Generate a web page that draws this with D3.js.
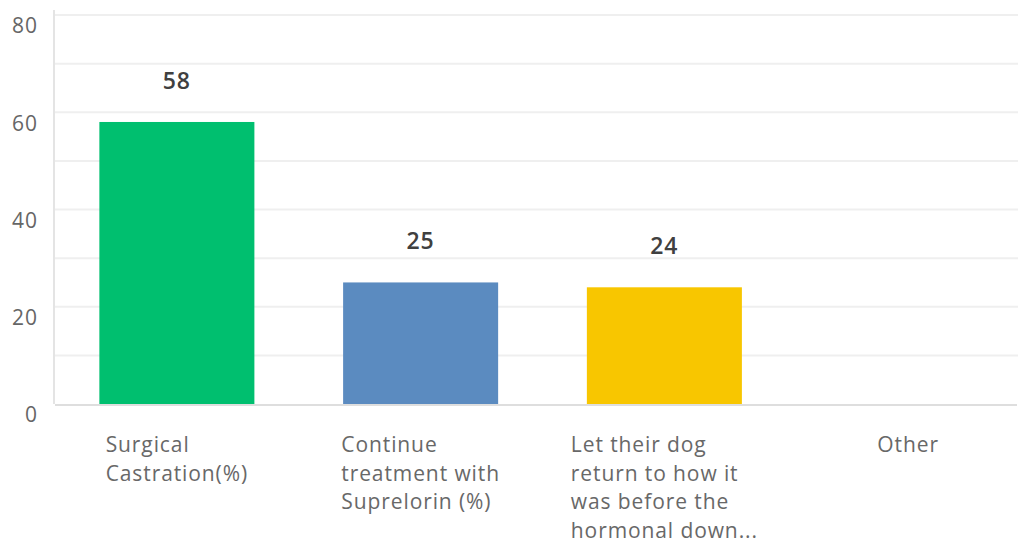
<!DOCTYPE html>
<html>
<head>
<meta charset="utf-8">
<script src="https://cdn.jsdelivr.net/npm/d3@7/dist/d3.min.js"></script>
<style>
  html, body { margin: 0; padding: 0; background: #ffffff; }
  svg { display: block; }
  text { font-family: "Open Sans", "Noto Sans", sans-serif; }
</style>
</head>
<body>
<svg id="chart" width="1018" height="542"></svg>
<script>
const categories = [
  ["Surgical", "Castration(%)"],
  ["Continue", "treatment with", "Suprelorin (%)"],
  ["Let their dog", "return to how it", "was before the", "hormonal down..."],
  ["Other"]
];
const categoryKeys = ["Surgical Castration(%)", "Continue treatment with Suprelorin (%)", "Let their dog return to how it was before the hormonal down...", "Other"];
const values = [58, 25, 24, null];
const barColors = ["#00bf6f", "#5b8bc0", "#f8c600", "#999999"];
const yTicks = [0, 20, 40, 60, 80];
const gridValues = [0, 10, 20, 30, 40, 50, 60, 70, 80];

const W = 1018, H = 542;
const svg = d3.select("#chart");

const x = d3.scaleBand()
  .domain(categoryKeys)
  .range([55, 1030])
  .paddingInner(0.364)
  .paddingOuter(0.182);

const y = d3.scaleLinear().domain([0, 80]).range([404, 15]);

// gridlines
svg.append("g").selectAll("line")
  .data(gridValues.filter(d => d > 0))
  .join("line")
  .attr("x1", 55).attr("x2", W)
  .attr("y1", d => y(d)).attr("y2", d => y(d))
  .attr("stroke", "#efefef").attr("stroke-width", 2);

// y axis line
svg.append("line")
  .attr("x1", 54).attr("x2", 54)
  .attr("y1", y(80) - 5).attr("y2", y(0))
  .attr("stroke", "#e4e4e4").attr("stroke-width", 2);

// y tick labels (offset below gridline)
const yAxis = d3.axisLeft(y).tickValues(yTicks).tickSize(0).tickPadding(16);
const gy = svg.append("g").attr("transform", "translate(54,0)").call(yAxis);
gy.select(".domain").remove();
gy.selectAll("text")
  .attr("dy", "0.85em")
  .attr("font-size", 21)
  .attr("letter-spacing", 1)
  .attr("fill", "#666")
  .style("font-family", '"Open Sans", "Noto Sans", sans-serif');

// bars
const bars = categoryKeys.map((k, i) => ({ key: k, value: values[i], color: barColors[i] }))
  .filter(d => d.value != null);

svg.append("g").selectAll("rect")
  .data(bars)
  .join("rect")
  .attr("x", d => x(d.key))
  .attr("width", x.bandwidth())
  .attr("y", d => y(d.value))
  .attr("height", d => y(0) - y(d.value))
  .attr("fill", d => d.color);

// value labels
svg.append("g").selectAll("text")
  .data(bars)
  .join("text")
  .attr("x", d => x(d.key) + x.bandwidth() / 2)
  .attr("y", d => y(d.value) - 33)
  .attr("text-anchor", "middle")
  .attr("font-size", 23)
  .attr("font-weight", 600)
  .attr("letter-spacing", 1)
  .attr("fill", "#404040")
  .text(d => d.value);

// x axis baseline
svg.append("line")
  .attr("x1", 55).attr("x2", W - 1)
  .attr("y1", y(0) + 1).attr("y2", y(0) + 1)
  .attr("stroke", "#dedede").attr("stroke-width", 2);

// category labels: block centred on band, lines left aligned
const lab = svg.append("g");
categoryKeys.forEach((k, i) => {
  const cx = x(k) + x.bandwidth() / 2;
  const t = lab.append("text")
    .attr("font-size", 21)
    .attr("letter-spacing", 0.9)
    .attr("fill", "#686868");
  categories[i].forEach((line, j) => {
    t.append("tspan")
      .attr("x", 0)
      .attr("y", 452 + j * 28.6)
      .text(line);
  });
  let maxW = 0;
  t.selectAll("tspan").each(function () {
    maxW = Math.max(maxW, this.getComputedTextLength());
  });
  t.selectAll("tspan").attr("x", cx - maxW / 2);
});
</script>
</body>
</html>
